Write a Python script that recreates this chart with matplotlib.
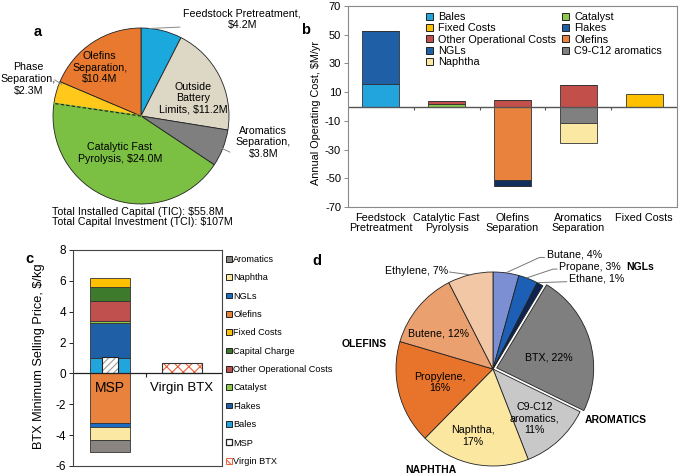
import matplotlib
matplotlib.use('Agg')
import matplotlib.pyplot as plt
from matplotlib.patches import Patch
import numpy as np

plt.rcParams['font.family'] = ['Liberation Sans', 'DejaVu Sans']
plt.rcParams['axes.unicode_minus'] = False
plt.rcParams['hatch.linewidth'] = 0.8

W, H = 679, 476

# ---------- DATA ----------
# (a) installed capital by area, $M
cap_areas = ['Feedstock Pretreatment', 'Outside Battery Limits', 'Aromatics Separation',
             'Catalytic Fast Pyrolysis', 'Phase Separation', 'Olefins Separation']
cap_values = [4.2, 11.2, 3.8, 24.0, 2.3, 10.4]
cap_colors = ['#1aa8dd', '#ddd8c5', '#7f7f7f', '#7bc043', '#ffc81a', '#e8792f']

# (b) annual operating cost by area, $M/yr
ops_areas = ['Feedstock\nPretreatment', 'Catalytic Fast\nPyrolysis', 'Olefins\nSeparation',
             'Aromatics\nSeparation', 'Fixed Costs']
ops_bales = [15.5, 0, 0, 0, 0]
ops_catalyst = [0, 2.0, 0, 0, 0]
ops_flakes = [37.3, 0, 0, 0, 0]
ops_other = [0, 1.5, 4.6, 15.1, 0]
ops_fixed = [0, 0, 0, 0, 8.6]
ops_olefins = [0, 0, -51.4, 0, 0]
ops_ngls = [0, 0, -4.3, 0, 0]
ops_c9 = [0, 0, 0, -11.6, 0]
ops_naphtha = [0, 0, 0, -13.7, 0]

# (c) BTX minimum selling price breakdown, $/kg
msp_parts = ['Bales', 'Flakes', 'Catalyst', 'Other Operational Costs', 'Capital Charge',
             'Fixed Costs', 'Olefins', 'NGLs', 'Naphtha', 'Aromatics']
msp_values = [0.97, 2.27, 0.17, 1.30, 0.91, 0.54, -3.24, -0.22, -0.86, -0.76]
msp_total = 1.08
virgin_btx = 0.69

# (d) product distribution, %
prod_names = ['Butane', 'Propane', 'Ethane', 'BTX', 'C9-C12\naromatics', 'Naphtha',
              'Propylene', 'Butene', 'Ethylene']
prod_pct = [4, 3, 1, 22, 11, 17, 16, 12, 7]
prod_colors = ['#7d8fd3', '#1d5fb4', '#0d2550', '#7f7f7f', '#c8c8c8', '#fbe7a0',
               '#e8742b', '#eba070', '#f2c7a6']

colors = {'Bales': '#22a5dd', 'Flakes': '#1f5fa6', 'Catalyst': '#8cc84b',
          'Other Operational Costs': '#c0504d', 'Capital Charge': '#3d7a2c',
          'Fixed Costs': '#ffc000', 'Olefins': '#e8823c', 'NGLs': '#1a6cc4',
          'Naphtha': '#fbe9a3', 'Aromatics': '#8a8580', 'C9-C12 aromatics': '#808080'}


fig = plt.figure(figsize=(W / 100, H / 100), dpi=100)


def px_axes(left, top, right, bottom):
    return fig.add_axes([left / W, 1 - bottom / H, (right - left) / W, (bottom - top) / H])


def pie_axes(cx, cy, r, lim):
    h = r * lim
    ax = px_axes(cx - h, cy - h, cx + h, cy + h)
    ax.axis('off')
    return ax


# ---------- (a) ----------
fs_a = 7.7
ax_a = pie_axes(141, 116, 88, 1.05)
ax_a.pie(cap_values, colors=cap_colors, startangle=90, counterclock=False,
         wedgeprops=dict(edgecolor='#222222', linewidth=0.6))
ax_a.set_xlim(-1.05, 1.05)
ax_a.set_ylim(-1.05, 1.05)
ax_a.set_aspect('auto')
# dashed boundary between pyrolysis and phase separation
ang = np.deg2rad(90 - 360 * sum(cap_values[:4]) / sum(cap_values))
ax_a.plot([0, np.cos(ang)], [0, np.sin(ang)], color=cap_colors[3], lw=1.3)
ax_a.plot([0, np.cos(ang)], [0, np.sin(ang)], color='#222222', lw=0.8, ls=(0, (3, 2)))

ax_a.text(1.15, 1.10, 'Feedstock Pretreatment,\n\\$4.2M', ha='center', va='center', fontsize=fs_a)
ax_a.plot([0.10, 0.44], [0.995, 1.01], color='#888888', lw=0.7, clip_on=False)
ax_a.text(-1.28, 0.42, 'Phase\nSeparation,\n\\$2.3M', ha='center', va='center', fontsize=fs_a)
ax_a.plot([-0.98, -0.90], [0.41, 0.36], color='#888888', lw=0.7, clip_on=False)
ax_a.text(-0.47, 0.55, 'Olefins\nSeparation,\n\\$10.4M', ha='center', va='center', fontsize=fs_a)
ax_a.text(0.59, 0.20, 'Outside\nBattery\nLimits, \\$11.2M', ha='center', va='center', fontsize=fs_a)
ax_a.text(1.39, -0.30, 'Aromatics\nSeparation,\n\\$3.8M', ha='center', va='center', fontsize=fs_a)
ax_a.plot([1.01, 0.90], [-0.41, -0.36], color='#888888', lw=0.7, clip_on=False)
ax_a.text(-0.24, -0.42, 'Catalytic Fast\nPyrolysis, \\$24.0M', ha='center', va='center', fontsize=fs_a)
fig.text(52 / W, 1 - 217 / H,
         'Total Installed Capital (TIC): \\$55.8M\nTotal Capital Investment (TCI): \\$107M',
         ha='left', va='center', fontsize=fs_a, linespacing=1.05)

# ---------- (b) ----------
ax_b = px_axes(348, 6, 677, 207)
xb = np.arange(len(ops_areas))
bw = 0.56
pos_series = [('Bales', ops_bales), ('Catalyst', ops_catalyst), ('Flakes', ops_flakes),
              ('Other Operational Costs', ops_other), ('Fixed Costs', ops_fixed)]
neg_series = [('Olefins', ops_olefins), ('NGLs', ops_ngls),
              ('C9-C12 aromatics', ops_c9), ('Naphtha', ops_naphtha)]
b_colors = dict(colors)
b_colors['NGLs'] = '#0f2f5e'
b_colors['Other Operational Costs'] = '#c34f4b'
base = np.zeros(len(xb))
for name, vals in pos_series:
    ax_b.bar(xb, vals, bw, bottom=base, color=b_colors[name], edgecolor='#333333', lw=0.6)
    base = base + np.array(vals)
base = np.zeros(len(xb))
for name, vals in neg_series:
    ax_b.bar(xb, vals, bw, bottom=base, color=b_colors[name], edgecolor='#333333', lw=0.6)
    base = base + np.array(vals)
ax_b.axhline(0, color='#555555', lw=1.0)
ax_b.vlines(xb[:-1] + 0.5, -2.5, 0, color='#555555', lw=0.8)
ax_b.set_xlim(-0.5, 4.5)
ax_b.set_ylim(-70, 70)
ax_b.set_yticks(np.arange(-70, 71, 20))
ax_b.set_xticks(xb)
ax_b.set_xticklabels(ops_areas, fontsize=7.8, linespacing=1.05)
ax_b.tick_params(axis='x', length=0, pad=4)
ax_b.tick_params(axis='y', labelsize=8, length=3, width=0.6, color='#777777', pad=2)
for s in ax_b.spines.values():
    s.set_color('#8a8a8a')
    s.set_linewidth(0.8)
ax_b.set_ylabel('Annual Operating Cost, \\$M/yr', fontsize=7.8)
ax_b.yaxis.set_label_coords(-0.082, 0.47)

b_legend_order = ['Bales', 'Fixed Costs', 'Other Operational Costs', 'NGLs', 'Naphtha',
                  'Catalyst', 'Flakes', 'Olefins', 'C9-C12 aromatics']
handles_b = [Patch(facecolor=b_colors[n], edgecolor='#222222', lw=0.7, label=n) for n in b_legend_order]
handles_b[3] = Patch(facecolor='#1f5fa6', edgecolor='#222222', lw=0.7, label='NGLs')
fig.legend(handles=handles_b, ncol=2, loc='upper left', bbox_to_anchor=(426 / W, 1 - 12 / H),
           frameon=False, fontsize=7.8, handlelength=0.6, handleheight=0.6, handletextpad=0.5,
           labelspacing=0.12, columnspacing=0.6, borderpad=0, borderaxespad=0)

# ---------- (c) ----------
ax_c = px_axes(73, 250, 222, 466)
bwc = 0.55
up = 0.0
down = 0.0
for name, v in zip(msp_parts, msp_values):
    if v >= 0:
        ax_c.bar(0, v, bwc, bottom=up, color=colors[name], edgecolor='#333333', lw=0.6)
        up += v
    else:
        ax_c.bar(0, v, bwc, bottom=down, color=colors[name], edgecolor='#333333', lw=0.6)
        down += v
ax_c.bar(0, msp_total, 0.21, color='white', edgecolor='#9a9a9a', hatch='/////', lw=0)
ax_c.bar(0, msp_total, 0.21, color='none', edgecolor='#222222', lw=0.8)
ax_c.bar(1, virgin_btx, bwc, color='white', edgecolor='#e8603a', hatch='xxx', lw=0)
ax_c.bar(1, virgin_btx, bwc, color='none', edgecolor='#333333', lw=0.8)
ax_c.axhline(0, color='#222222', lw=0.9)
ax_c.vlines([0.5], -0.25, 0, color='#222222', lw=0.8)
ax_c.text(0, -0.97, 'MSP', ha='center', va='center', fontsize=10)
ax_c.text(1, -0.97, 'Virgin BTX', ha='center', va='center', fontsize=9.5)
ax_c.set_xlim(-0.514, 1.556)
ax_c.set_ylim(-6, 8)
ax_c.set_yticks(np.arange(-6, 9, 2))
ax_c.set_xticks([])
ax_c.tick_params(axis='y', labelsize=8.5, length=3, width=0.6, pad=2)
for s in ax_c.spines.values():
    s.set_color('#444444')
    s.set_linewidth(0.8)
ax_c.set_ylabel('BTX Minimum Selling Price, \\$/kg', fontsize=9.2)
ax_c.yaxis.set_label_coords(-0.185, 0.51)

c_legend_order = ['Aromatics', 'Naphtha', 'NGLs', 'Olefins', 'Fixed Costs', 'Capital Charge',
                  'Other Operational Costs', 'Catalyst', 'Flakes', 'Bales']
handles_c = [Patch(facecolor=colors[n], edgecolor='#222222', lw=0.7, label=n) for n in c_legend_order]
handles_c.append(Patch(facecolor='white', edgecolor='#222222', lw=0.9, label='MSP'))
handles_c.append(Patch(facecolor='white', edgecolor='#e8603a', hatch='\\\\\\', lw=0.7, label='Virgin BTX'))
fig.legend(handles=handles_c, loc='upper left', bbox_to_anchor=(226 / W, 1 - 255 / H),
           frameon=False, fontsize=6.6, handlelength=0.6, handleheight=0.6, handletextpad=0.2,
           labelspacing=1.02, borderpad=0, borderaxespad=0)

# ---------- (d) ----------
fs_d = 7.7
ax_d = pie_axes(493, 369, 97, 1.08)
explode = [0.04 if n == 'BTX' else 0 for n in prod_names]
ax_d.pie(prod_pct, colors=prod_colors, startangle=90, counterclock=False, explode=explode,
         wedgeprops=dict(edgecolor='#222222', linewidth=0.6))
ax_d.set_xlim(-1.08, 1.08)
ax_d.set_ylim(-1.08, 1.08)
ax_d.set_aspect('auto')

ax_d.text(0.84, 1.18, 'Butane, 4%', ha='center', va='center', fontsize=fs_d)
ax_d.plot([0.13, 0.48, 0.53], [0.99, 1.15, 1.15], color='#777777', lw=0.7, clip_on=False)
ax_d.text(1.00, 1.05, 'Propane, 3%', ha='center', va='center', fontsize=fs_d)
ax_d.plot([0.35, 0.62, 0.66], [0.94, 1.03, 1.03], color='#777777', lw=0.7, clip_on=False)
ax_d.text(1.52, 1.05, 'NGLs', ha='center', va='center', fontsize=7.5, fontweight='bold')
ax_d.text(1.07, 0.93, 'Ethane, 1%', ha='center', va='center', fontsize=fs_d)
ax_d.plot([0.47, 0.76], [0.89, 0.90], color='#777777', lw=0.7, clip_on=False)
ax_d.text(-0.79, 1.01, 'Ethylene, 7%', ha='center', va='center', fontsize=fs_d)
ax_d.plot([-0.45, -0.23], [1.0, 0.97], color='#777777', lw=0.7, clip_on=False)
ax_d.text(-1.33, 0.26, 'OLEFINS', ha='center', va='center', fontsize=7.5, fontweight='bold')
ax_d.text(1.27, -0.53, 'AROMATICS', ha='center', va='center', fontsize=7.5, fontweight='bold')
ax_d.text(-0.64, -1.04, 'NAPHTHA', ha='center', va='center', fontsize=7.5, fontweight='bold')
ax_d.text(-0.56, 0.37, 'Butene, 12%', ha='center', va='center', fontsize=fs_d)
ax_d.text(0.58, 0.12, 'BTX, 22%', ha='center', va='center', fontsize=fs_d)
ax_d.text(-0.55, -0.14, 'Propylene,\n16%', ha='center', va='center', fontsize=fs_d)
ax_d.text(0.43, -0.51, 'C9-C12\naromatics,\n11%', ha='center', va='center', fontsize=fs_d)
ax_d.text(-0.21, -0.69, 'Naphtha,\n17%', ha='center', va='center', fontsize=fs_d)

# ---------- panel letters ----------
for letter, (x, y) in zip('abcd', [(38, 32), (306, 30), (29, 259), (317, 261)]):
    fig.text(x / W, 1 - y / H, letter, ha='center', va='center', fontsize=10.5, fontweight='bold')

fig.savefig('out.png', dpi=100)
